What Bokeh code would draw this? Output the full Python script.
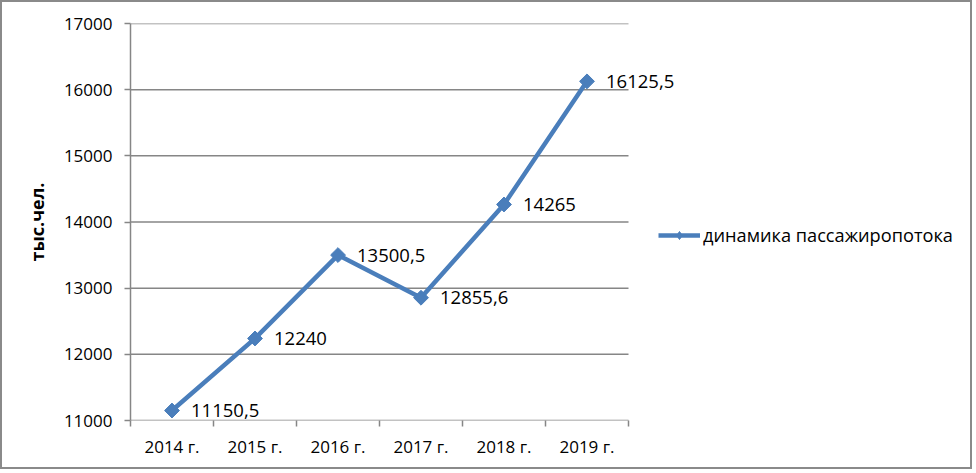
import math
from bokeh.plotting import figure
from bokeh.models import FixedTicker, Legend, LegendItem, ColumnDataSource, LabelSet, Range1d
from bokeh.core.properties import value
from bokeh.embed import file_html
from bokeh.resources import INLINE

categories = ["2014 г.", "2015 г.", "2016 г.", "2017 г.", "2018 г.", "2019 г."]
values = [11150.5, 12240, 13500.5, 12855.6, 14265, 16125.5]
value_labels = ["11150,5", "12240", "13500,5", "12855,6", "14265", "16125,5"]
y_ticks = [11000, 12000, 13000, 14000, 15000, 16000, 17000]
series_name = "динамика пассажиропотока"
y_title = "тыс.чел."

FONT = "Open Sans"
GRAY = "#868686"
BLUE = "#4A7EBB"

n = len(categories)
xs = [i + 0.5 for i in range(n)]
x_end = n * 832 / 498  # frame extended to the right so labels/legend are not clipped

p = figure(width=972, height=469, output_backend="svg", toolbar_location=None,
           x_range=Range1d(0, x_end), y_range=Range1d(11000, 17000),
           min_border_left=128, min_border_top=21, min_border_right=12, min_border_bottom=51)
p.styles = {"border": "2px solid #8a8a8a"}
p.outline_line_color = None
p.background_fill_color = "white"
p.border_fill_color = "white"

p.xgrid.grid_line_color = None
p.ygrid.grid_line_color = None

# horizontal gridlines over category span
p.segment(x0=[0] * len(y_ticks), x1=[n] * len(y_ticks), y0=y_ticks, y1=y_ticks,
          line_color=GRAY, line_width=1.5)

# y axis
p.yaxis.ticker = FixedTicker(ticks=y_ticks)
p.yaxis.axis_line_color = GRAY
p.yaxis.axis_line_width = 1.5
p.yaxis.major_tick_line_color = GRAY
p.yaxis.major_tick_line_width = 1.5
p.yaxis.major_tick_in = 0
p.yaxis.major_tick_out = 6
p.yaxis.minor_tick_line_color = None
p.yaxis.major_label_text_font = FONT
p.yaxis.major_label_text_font_size = "17px"
p.yaxis.major_label_text_color = "black"
p.yaxis.major_label_standoff = 12
p.yaxis.axis_label = y_title
p.yaxis.axis_label_text_font = FONT
p.yaxis.axis_label_text_font_style = "bold"
p.yaxis.axis_label_text_font_size = "18px"
p.yaxis.axis_label_text_color = "black"
p.yaxis.axis_label_standoff = 12

# x axis
p.xaxis.ticker = FixedTicker(ticks=xs, minor_ticks=list(range(n + 1)))
p.xaxis.major_label_overrides = {x: c for x, c in zip(xs, categories)}
p.xaxis.axis_line_color = None
p.xaxis.major_tick_line_color = None
p.xaxis.major_tick_in = 0
p.xaxis.major_tick_out = 0
p.xaxis.minor_tick_line_color = GRAY
p.xaxis.minor_tick_line_width = 1.5
p.xaxis.minor_tick_in = 0
p.xaxis.minor_tick_out = 6
p.xaxis.major_label_text_font = FONT
p.xaxis.major_label_text_font_size = "17px"
p.xaxis.major_label_text_color = "black"
p.xaxis.major_label_standoff = 8

src = ColumnDataSource(dict(x=xs, y=values, lab=value_labels))
# swatch renderer for the legend (hidden beneath the first data marker)
leg_mk = p.scatter(x=xs[:1], y=values[:1], marker="diamond", size=13,
                   fill_color=BLUE, line_color=BLUE)
ln = p.line("x", "y", source=src, line_color=BLUE, line_width=4.5)
mk = p.scatter("x", "y", source=src, marker="square", angle=math.pi / 4, size=10.5,
               fill_color=BLUE, line_color=BLUE)

labels = LabelSet(x="x", y="y", text="lab", source=src, x_offset=19, y_offset=0,
                  text_font=value(FONT), text_font_size="18.5px", text_color="black",
                  text_baseline="middle", text_align="left")
p.add_layout(labels)

legend = Legend(items=[LegendItem(label=series_name, renderers=[ln, leg_mk])],
                location=(528, 173), glyph_width=42, glyph_height=20, label_standoff=3,
                padding=0, margin=0, border_line_color=None, background_fill_alpha=0,
                label_text_font=FONT, label_text_font_size="18.2px", label_text_color="black")
p.add_layout(legend, "center")

open("out.html", "w").write(file_html(p, INLINE))
